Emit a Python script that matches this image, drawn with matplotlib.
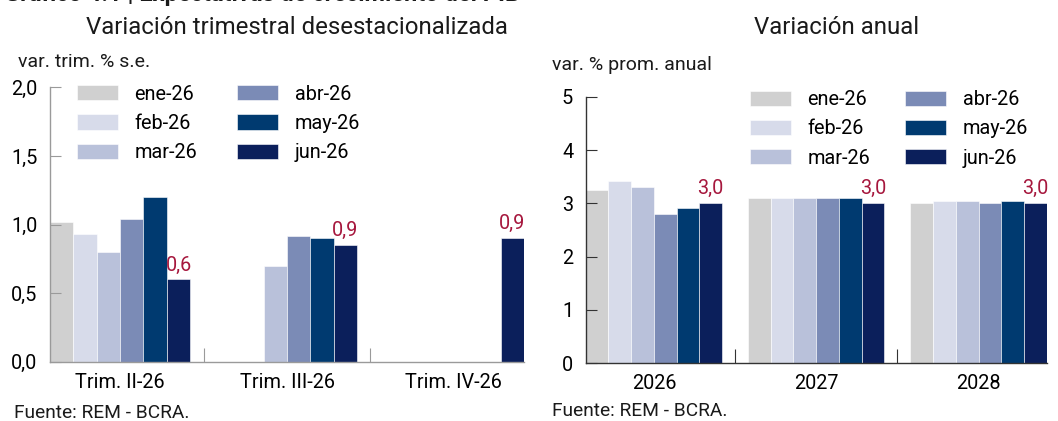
import matplotlib
matplotlib.use("Agg")
import matplotlib.pyplot as plt
import numpy as np
from matplotlib.patches import Patch

plt.rcParams['font.family'] = ['Roboto', 'DejaVu Sans']

series = ["ene-26", "feb-26", "mar-26", "abr-26", "may-26", "jun-26"]
colors = ["#d0d0d0", "#d7dbea", "#b9c1da", "#7b8bb6", "#003a70", "#0b1f5b"]

q_cats = ["Trim. II-26", "Trim. III-26", "Trim. IV-26"]
q_vals = {
    "ene-26": [1.02, np.nan, np.nan],
    "feb-26": [0.93, np.nan, np.nan],
    "mar-26": [0.80, 0.70, np.nan],
    "abr-26": [1.04, 0.92, np.nan],
    "may-26": [1.20, 0.90, np.nan],
    "jun-26": [0.60, 0.85, 0.90],
}
q_labels = ["0,6", "0,9", "0,9"]

a_cats = ["2026", "2027", "2028"]
a_vals = {
    "ene-26": [3.25, 3.10, 3.00],
    "feb-26": [3.41, 3.10, 3.05],
    "mar-26": [3.31, 3.10, 3.05],
    "abr-26": [2.80, 3.10, 3.00],
    "may-26": [2.92, 3.10, 3.05],
    "jun-26": [3.00, 3.00, 3.00],
}
a_labels = ["3,0", "3,0", "3,0"]

W, H = 1058, 421
fig = plt.figure(figsize=(W / 100, H / 100), dpi=100)

def fx(px):
    return px / W

def fy(py):
    return 1 - py / H

lab_color = "#a6173d"
FS = 14.3
bw = 0.14

def draw(ax, cats, vals, labels, spine_col, ylim, yticks, yticklabels):
    x = np.arange(len(cats))
    n = len(series)
    for i, s in enumerate(series):
        off = (i - (n - 1) / 2) * bw
        ax.bar(x + off, vals[s], width=bw, color=colors[i], edgecolor="white",
               linewidth=0.4, label=s)
    joff = (n - 1 - (n - 1) / 2) * bw
    for j, lab in enumerate(labels):
        v = vals["jun-26"][j]
        ax.annotate(lab, (x[j] + joff, v), xytext=(0, 6.5), textcoords="offset points",
                    ha="center", va="baseline", color=lab_color, fontsize=FS)
    ax.set_xlim(-0.42, len(cats) - 1 + 0.42)
    ax.set_ylim(*ylim)
    ax.set_yticks(yticks)
    ax.set_yticklabels(yticklabels, fontsize=FS)
    ax.set_xticks(x[:-1] + 0.5)
    ax.set_xticklabels([])
    ax.set_xticks(x, minor=True)
    ax.set_xticklabels(cats, minor=True, fontsize=FS)
    ax.tick_params(axis="x", which="major", direction="in", length=10, color=spine_col)
    ax.tick_params(axis="x", which="minor", length=0, pad=8)
    ax.tick_params(axis="y", direction="in", length=8, color=spine_col, pad=9)
    for sp in ["top", "right"]:
        ax.spines[sp].set_visible(False)
    for sp in ["left", "bottom"]:
        ax.spines[sp].set_color(spine_col)
        ax.spines[sp].set_linewidth(1.0)

ax1 = fig.add_axes([fx(50), fy(361.7), fx(524 - 50), (361.7 - 87.5) / H])
draw(ax1, q_cats, q_vals, q_labels, "#9a9a9a", (0, 2.0),
     [0, 0.5, 1.0, 1.5, 2.0], ["0,0", "0,5", "1,0", "1,5", "2,0"])

ax2 = fig.add_axes([fx(585.7), fy(363.3), fx(1046.7 - 585.7), (363.3 - 96.7) / H])
draw(ax2, a_cats, a_vals, a_labels, "#333333", (0, 5),
     [0, 1, 2, 3, 4, 5], ["0", "1", "2", "3", "4", "5"])

handles = [Patch(facecolor=c, edgecolor="white", linewidth=0.4) for c in colors]
leg_kw = dict(ncol=2, frameon=False, fontsize=FS, handlelength=2.05, handleheight=0.8,
              handletextpad=0.85, labelspacing=0.52, borderpad=0,
              borderaxespad=0, loc="upper left")
fig.legend(handles, series, bbox_to_anchor=(fx(77), fy(84.5)), columnspacing=2.0, **leg_kw)
fig.legend(handles, series, bbox_to_anchor=(fx(750), fy(90)), columnspacing=1.75, **leg_kw)

fig.text(fx(297), fy(27), "Variación trimestral desestacionalizada", ha="center",
         va="center", fontsize=17.3, color="#1a1a1a")
fig.text(fx(837), fy(27), "Variación anual", ha="center", va="center",
         fontsize=17.3, color="#1a1a1a")
fig.text(fx(18), fy(62), "var. trim. % s.e.", ha="left", va="center", fontsize=14,
         color="#1a1a1a")
fig.text(fx(552), fy(65), "var. % prom. anual", ha="left", va="center", fontsize=14,
         color="#1a1a1a")
fig.text(fx(14), fy(413), "Fuente: REM - BCRA.", ha="left", va="center", fontsize=13.8,
         color="#1a1a1a")
fig.text(fx(552), fy(411), "Fuente: REM - BCRA.", ha="left", va="center", fontsize=13.8,
         color="#1a1a1a")
fig.text(fx(520), fy(1), "Gráfico 4.1 | Expectativas de crecimiento del PIB", ha="right",
         va="baseline", fontsize=17, fontweight="bold", color="#1a1a1a")

fig.savefig("out.png", dpi=100)
